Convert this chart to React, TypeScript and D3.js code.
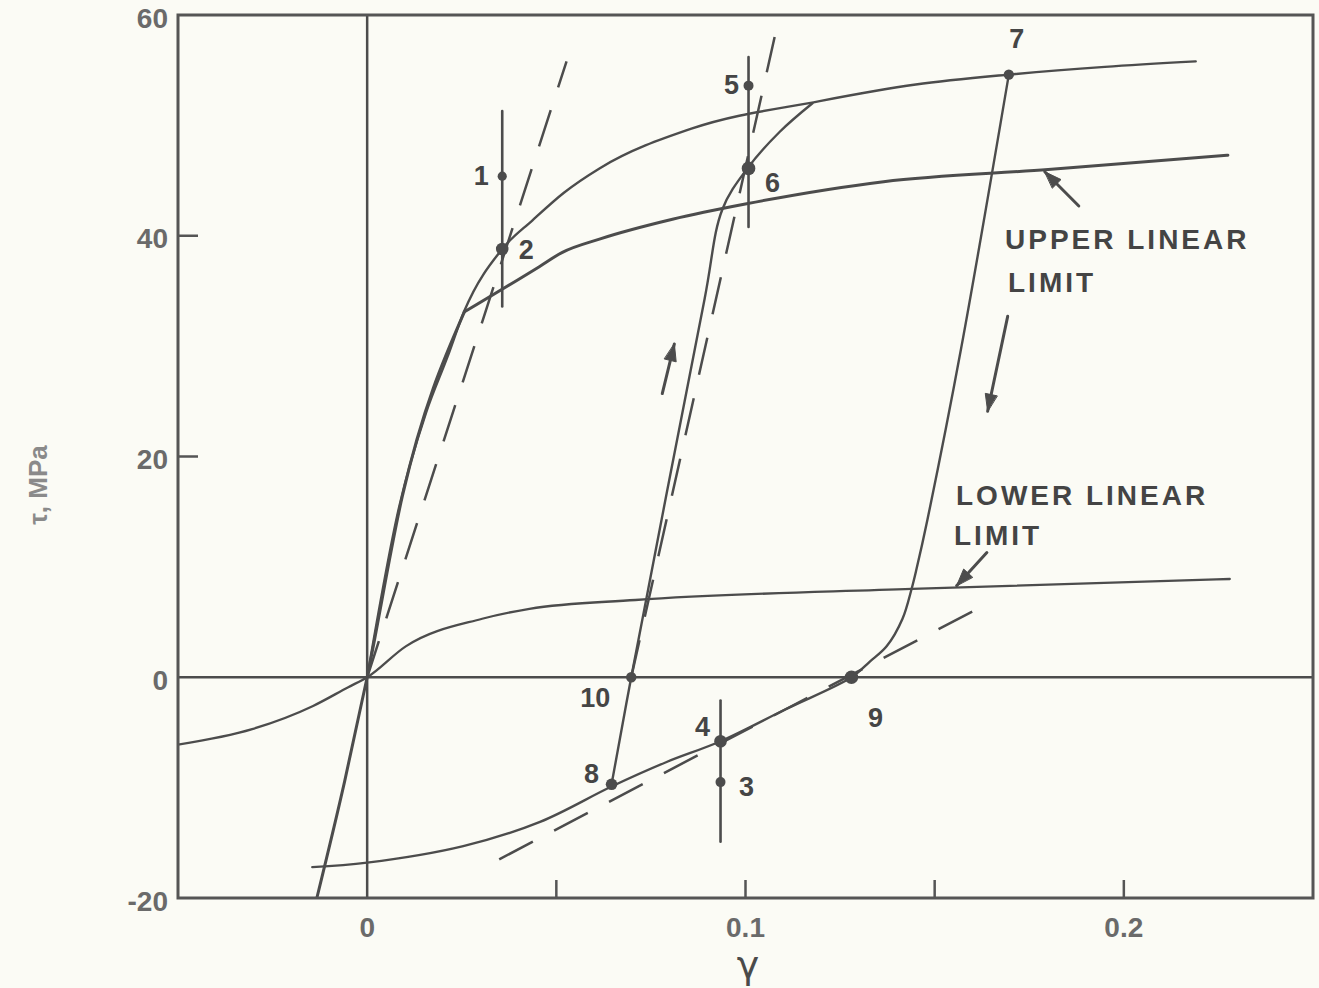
import React from "react";
import * as d3 from "d3";

// ---------- data (γ, τ[MPa]) ----------
const xTickLabels = [0, 0.1, 0.2];
const xInnerTicks = [0.05, 0.1, 0.15, 0.2];
const yTickLabels = [-20, 0, 20, 40, 60];
const yInnerTicks = [20, 40];

// initial loading curve
const initialCurve: [number, number][] = [
  [0, 0], [0.0085, 15.5], [0.0156, 24.0], [0.0212, 29.0], [0.0257, 33.2],
  [0.0357, 38.8], [0.0437, 41.4], [0.052, 43.9], [0.0614, 46.1], [0.0857, 49.7],
  [0.1196, 52.2], [0.145, 53.7], [0.1696, 54.6], [0.195, 55.3], [0.219, 55.8],
];

// upper linear limit: linear part, then plateau part (kink at 33 MPa)
const upperLimitLinear: [number, number][] = [
  [-0.0133, -20], [-0.006, -9.5], [0, 0], [0.0093, 16.4], [0.0257, 33.1],
];
const upperLimitPlateau: [number, number][] = [
  [0.0257, 33.1], [0.0455, 37.2], [0.0516, 38.5], [0.0614, 39.7], [0.0807, 41.5],
  [0.1003, 42.9], [0.1365, 44.9], [0.18, 46.0], [0.2275, 47.3],
];

// lower linear limit
const lowerLimit: [number, number][] = [
  [-0.05, -6.1], [-0.0304, -4.7], [-0.0143, -2.6], [-0.005, -0.9], [0, 0],
  [0.0102, 2.8], [0.0304, 5.3], [0.0429, 6.2], [0.0709, 7.0], [0.144, 8.0], [0.228, 8.9],
];

// reloading branch 8 -> 10 -> 6 -> top curve
const reloadBranch: [number, number][] = [
  [0.0646, -9.7], [0.0698, 0], [0.0892, 34.3], [0.0939, 42.4], [0.1005, 46.1],
  [0.109, 49.4], [0.1177, 52.0],
];

// unloading branch 7 -> 9 -> 4 -> 8 -> left end
const unloadBranch: [number, number][] = [
  [0.1696, 54.6], [0.157, 29.8], [0.1481, 14.3], [0.1452, 9.8], [0.1439, 8.0],
  [0.1415, 5.3], [0.1373, 2.8], [0.1328, 1.4], [0.128, 0], [0.1106, -2.9],
  [0.0934, -5.8], [0.079, -7.7], [0.0646, -9.9], [0.0457, -13.1], [0.0254, -15.3],
  [0, -16.8], [-0.0145, -17.2],
];

// dashed tangent lines
const dashedLines: [number, number][][] = [
  [[0, 0], [0.0527, 55.8]],
  [[0.0698, 0], [0.1077, 58.0]],
  [[0.0349, -16.5], [0.1624, 6.4]],
];

// vertical bars through numbered points
const verticalBars: [number, number][][] = [
  [[0.0357, 33.6], [0.0357, 51.3]],
  [[0.1008, 40.8], [0.1008, 56.2]],
  [[0.0934, -14.9], [0.0934, -2.1]],
];

// numbered points
const pointLabels = ["1", "2", "3", "4", "5", "6", "7", "8", "9", "10"];
const pointGamma = [0.0357, 0.0357, 0.0934, 0.0934, 0.1008, 0.1008, 0.1696, 0.0646, 0.128, 0.0698];
const pointTau = [45.4, 38.8, -9.5, -5.8, 53.6, 46.1, 54.6, -9.7, 0, 0];

// arrows [from, to]
const arrows: [number, number][][] = [
  [[0.1881, 42.7], [0.1791, 45.8]], // upper limit pointer
  [[0.1638, 11.3], [0.1558, 8.3]], // lower limit pointer
  [[0.078, 25.7], [0.0812, 30.2]], // loading direction
  [[0.1693, 32.7], [0.164, 24.1]], // unloading direction
];

// ---------- styles ----------
const W = 1319;
const H = 988;
const PL = 178, PR = 1313, PT = 15, PB = 898;
const INK = "#4c4c4c";
const pointRadius = [4.6, 6.3, 5, 6.3, 5, 6.8, 5.2, 5.8, 6.8, 5.2];
const labelOffset: [number, number][] = [
  [-21, 0], [24, 1], [26, 5], [-18, -14], [-17, -1], [24, 15], [8, -36], [-20, -10], [24, 41], [-36, 21],
];

export default function App() {
  const x = d3.scaleLinear().domain([-0.05, 0.25]).range([PL, PR]);
  const y = d3.scaleLinear().domain([-20, 60]).range([PB, PT]);

  const smooth = d3
    .line<[number, number]>()
    .x((d) => x(d[0]))
    .y((d) => y(d[1]))
    .curve(d3.curveCatmullRom.alpha(0.5));
  const mono = d3
    .line<[number, number]>()
    .x((d) => x(d[0]))
    .y((d) => y(d[1]))
    .curve(d3.curveMonotoneX);
  const straight = d3
    .line<[number, number]>()
    .x((d) => x(d[0]))
    .y((d) => y(d[1]));

  const arrowHead = (a: [number, number], b: [number, number]) => {
    const x1 = x(a[0]), y1 = y(a[1]), x2 = x(b[0]), y2 = y(b[1]);
    const ang = Math.atan2(y2 - y1, x2 - x1);
    const L = 17, Wd = 6;
    const bx = x2 - L * Math.cos(ang), by = y2 - L * Math.sin(ang);
    const px = -Math.sin(ang) * Wd, py = Math.cos(ang) * Wd;
    return `M${x2},${y2}L${bx + px},${by + py}L${bx - px},${by - py}Z`;
  };

  const font = "'Liberation Sans', Arial, Helvetica, sans-serif";

  return (
    <svg
      width={W}
      height={H}
      style={{ position: "absolute", left: 0, top: 0, background: "#fbfbf5" }}
      xmlns="http://www.w3.org/2000/svg"
    >
      <rect x={0} y={0} width={W} height={H} fill="#fbfbf5" />
      <defs>
        <clipPath id="plot">
          <rect x={PL} y={PT} width={PR - PL} height={PB - PT} />
        </clipPath>
      </defs>

      {/* axes lines through origin */}
      <line x1={x(0)} x2={x(0)} y1={PT} y2={PB} stroke={INK} strokeWidth={2.5} />
      <line x1={PL} x2={PR} y1={y(0)} y2={y(0)} stroke={INK} strokeWidth={2.5} />

      <g clipPath="url(#plot)" fill="none" stroke={INK} strokeLinecap="round" strokeLinejoin="round">
        <path d={mono(lowerLimit) || ""} strokeWidth={2.3} />
        <path d={mono(upperLimitLinear) || ""} strokeWidth={3} />
        <path d={mono(upperLimitPlateau) || ""} strokeWidth={3} />
        <path d={mono(initialCurve) || ""} strokeWidth={2.4} />
        <path d={smooth(reloadBranch) || ""} strokeWidth={2.4} />
        <path d={smooth(unloadBranch) || ""} strokeWidth={2.4} />
        {dashedLines.map((l, i) => (
          <path key={i} d={straight(l) || ""} strokeWidth={2.5} strokeDasharray="38 24" strokeLinecap="butt" />
        ))}
        {verticalBars.map((l, i) => (
          <path key={i} d={straight(l) || ""} strokeWidth={2.6} />
        ))}
        {arrows.map((a, i) => (
          <g key={i}>
            <path d={straight(a) || ""} strokeWidth={3} />
            <path d={arrowHead(a[0], a[1])} fill={INK} stroke={INK} strokeWidth={1} />
          </g>
        ))}
      </g>

      {/* points and labels */}
      {pointLabels.map((lab, i) => (
        <g key={lab}>
          <circle cx={x(pointGamma[i])} cy={y(pointTau[i])} r={pointRadius[i]} fill={INK} />
          <text
            x={x(pointGamma[i]) + labelOffset[i][0]}
            y={y(pointTau[i]) + labelOffset[i][1]}
            textAnchor="middle"
            dominantBaseline="central"
            fontFamily={font}
            fontWeight="bold"
            fontSize={27}
            fill="#454545"
          >
            {lab}
          </text>
        </g>
      ))}

      {/* frame */}
      <rect x={PL} y={PT} width={PR - PL} height={PB - PT} fill="none" stroke="#555" strokeWidth={3} />

      {/* inner ticks */}
      {xInnerTicks.map((t) => (
        <line key={t} x1={x(t)} x2={x(t)} y1={PB} y2={PB - 18} stroke="#555" strokeWidth={2.5} />
      ))}
      {yInnerTicks.map((t) => (
        <line key={t} x1={PL} x2={PL + 20} y1={y(t)} y2={y(t)} stroke="#555" strokeWidth={2.5} />
      ))}

      {/* tick labels */}
      {yTickLabels.map((t) => (
        <text
          key={t}
          x={168}
          y={y(t) + 3}
          textAnchor="end"
          dominantBaseline="central"
          fontFamily={font}
          fontSize={28}
          fontWeight="bold"
          fill="#6a6a6a"
        >
          {t}
        </text>
      ))}
      {xTickLabels.map((t) => (
        <text
          key={t}
          x={x(t)}
          y={927}
          textAnchor="middle"
          dominantBaseline="central"
          fontFamily={font}
          fontSize={28}
          fontWeight="bold"
          fill="#6a6a6a"
        >
          {t}
        </text>
      ))}

      {/* axis titles */}
      <text x={748} y={978} textAnchor="middle" fontFamily="'DejaVu Sans', sans-serif" fontSize={38} fill="#4a4a4a">
        γ
      </text>
      <text
        transform="translate(38,485) rotate(-90)"
        textAnchor="middle"
        dominantBaseline="central"
        fontFamily={font}
        fontSize={26}
        fill="#8a8a8a"
        fontWeight="bold"
      >
        τ, MPa
      </text>

      {/* annotations */}
      <g fontFamily={font} fontWeight="bold" fontSize={28} fill="#444" letterSpacing={3}>
        <text x={1005} y={249}>UPPER LINEAR</text>
        <text x={1008} y={292}>LIMIT</text>
        <text x={956} y={505}>LOWER LINEAR</text>
        <text x={954} y={545}>LIMIT</text>
      </g>
    </svg>
  );
}
